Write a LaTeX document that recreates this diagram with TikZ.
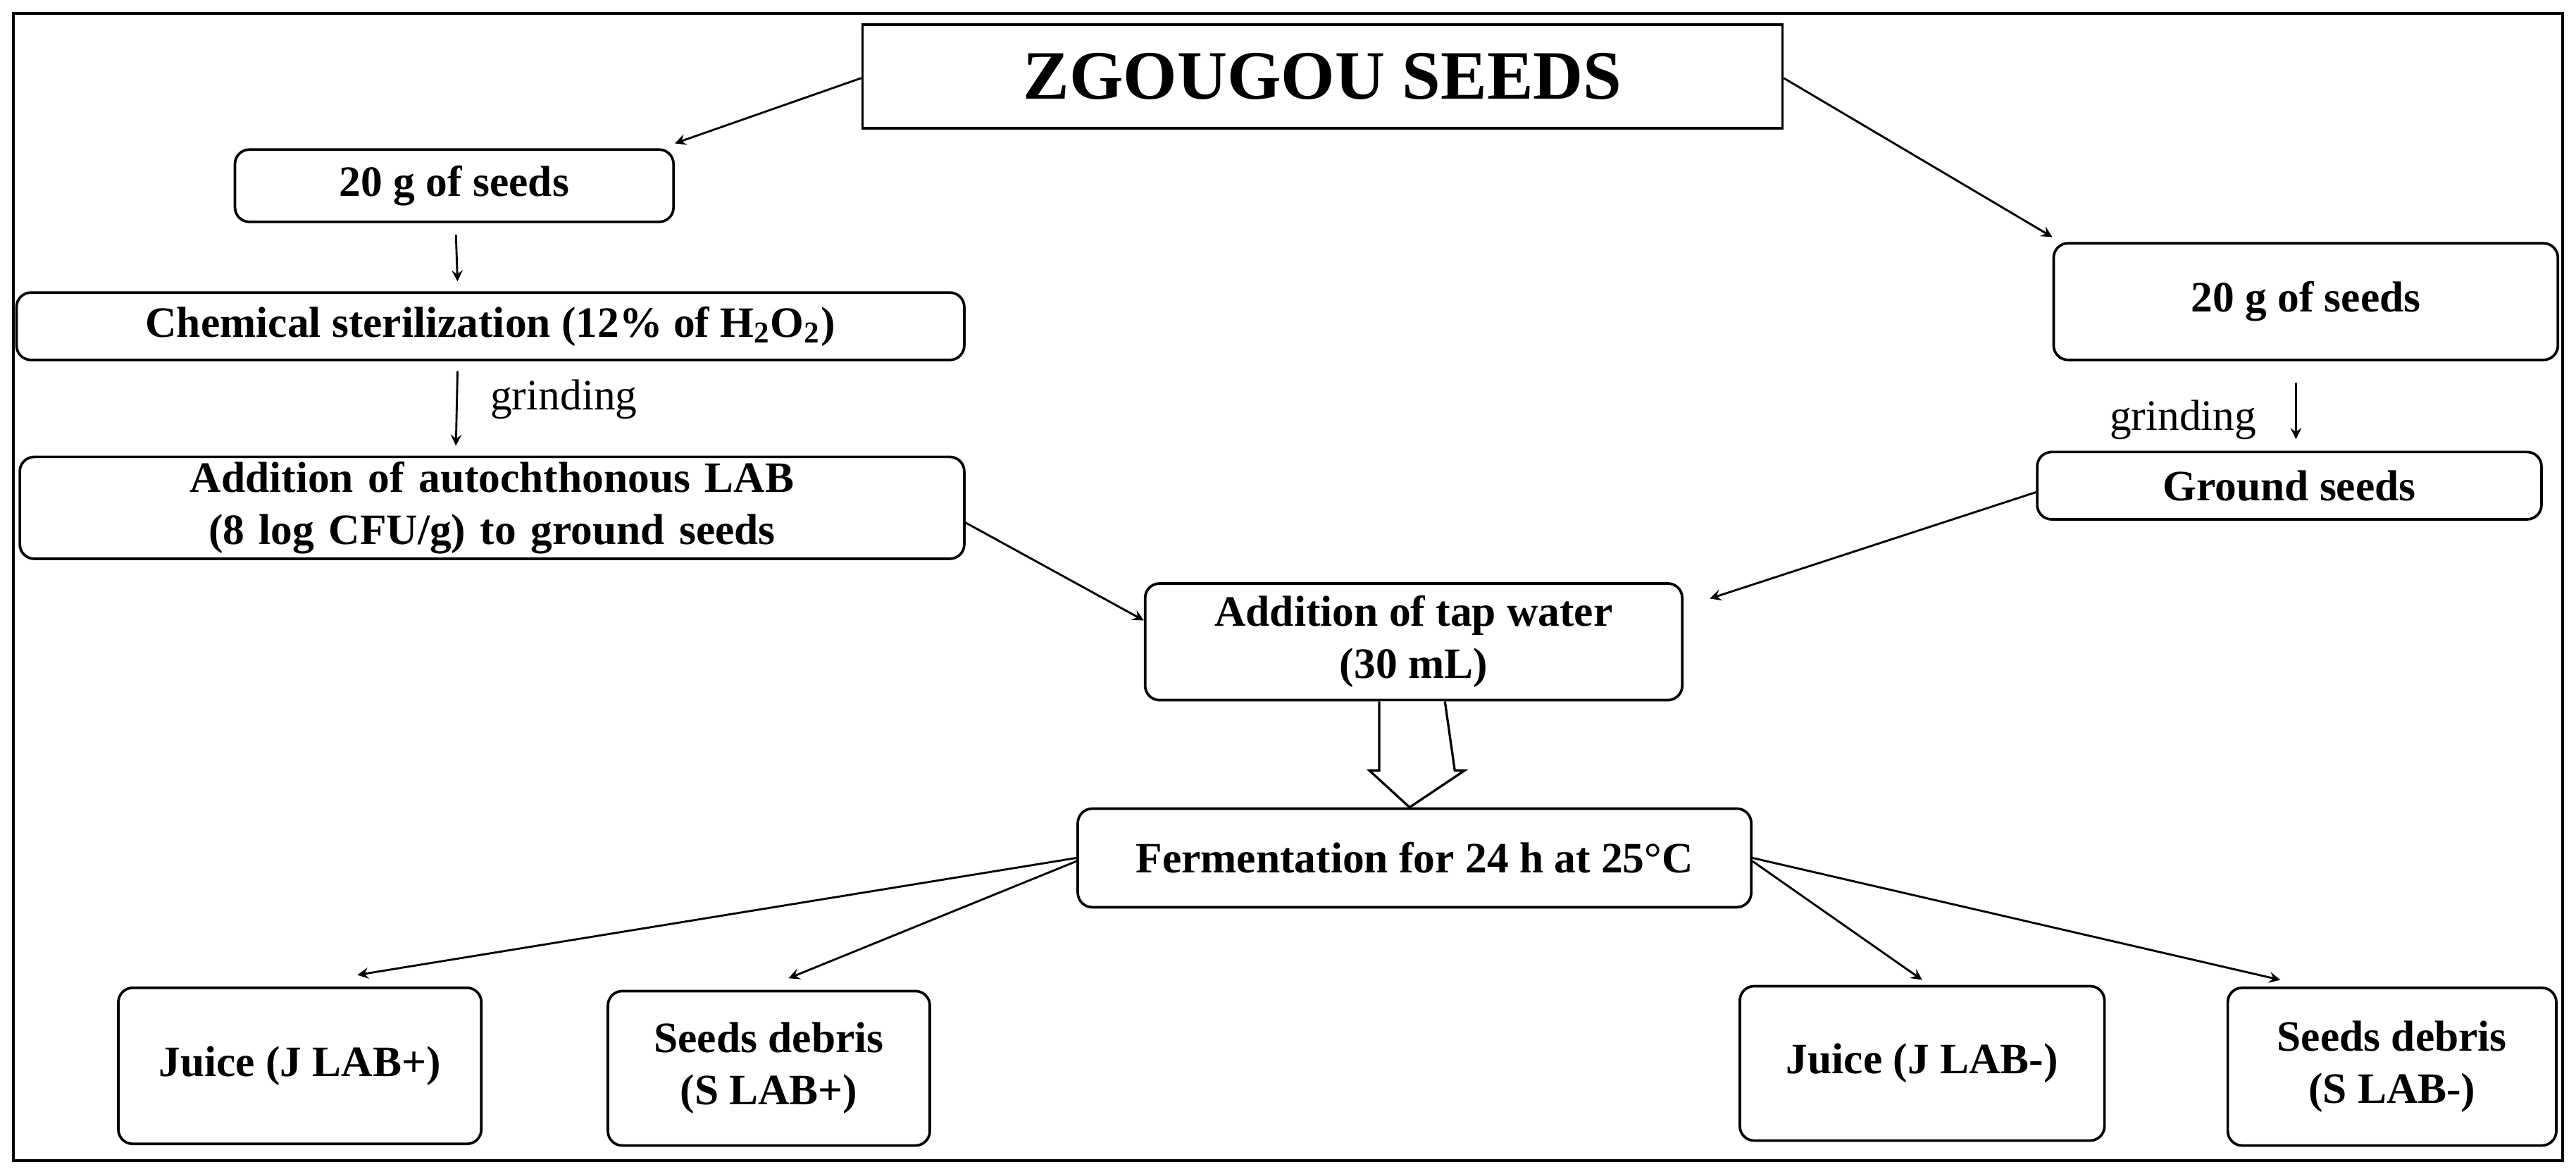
\documentclass[tikz,border=0pt]{standalone}
\usepackage{fontspec}
\setmainfont{Liberation Serif}
\usetikzlibrary{calc}
\begin{document}
\begin{tikzpicture}[x=0.02cm,y=-0.02cm,
 box/.style={draw,rounded corners=5pt,line width=0.9pt,align=center,font=\bfseries\fontsize{15}{18}\selectfont,inner sep=0pt},
 ar/.style={-stealth,line width=0.7pt},
 lab/.style={font=\fontsize{15}{18}\selectfont}]
\useasboundingbox (0,0) rectangle (1568,714);
\draw[line width=1pt] (8,8) rectangle (1560,706);
\node[draw,line width=0.9pt,inner sep=0pt,minimum width=11.2cm,minimum height=1.26cm,font=\bfseries\fontsize{24}{28}\selectfont] (zg) at (805,46.5) {ZGOUGOU SEEDS};
\node[box,minimum width=5.34cm,minimum height=0.88cm] (s1) at (276.5,113) {20 g of seeds};
\node[box,minimum width=11.54cm,minimum height=0.82cm] (ch) at (298.5,198.5) {Chemical sterilization (12\% of H\textsubscript{2}O\textsubscript{2})};
\node[box,minimum width=11.5cm,minimum height=1.24cm,text width=10.4cm] (lab) at (299.5,309) {Addition of autochthonous LAB (8 log CFU/g) to ground seeds};
\node[box,minimum width=6.14cm,minimum height=1.42cm] (s2) at (1403.5,183.5) {20 g of seeds};
\node[box,minimum width=6.14cm,minimum height=0.82cm] (gs) at (1393.5,295.5) {Ground seeds};
\node[box,minimum width=6.54cm,minimum height=1.42cm] (tw) at (860.5,390.5) {Addition of tap water\\(30 mL)};
\node[box,minimum width=8.2cm,minimum height=1.2cm] (fe) at (861,522) {Fermentation for 24 h at 25°C};
\node[box,minimum width=4.42cm,minimum height=1.9cm] (j1) at (182.5,648.5) {Juice (J LAB+)};
\node[box,minimum width=3.92cm,minimum height=1.88cm] (d1) at (468,650) {Seeds debris\\(S LAB+)};
\node[box,minimum width=4.44cm,minimum height=1.88cm] (j2) at (1170,647) {Juice (J LAB-)};
\node[box,minimum width=4cm,minimum height=1.92cm] (d2) at (1456,649) {Seeds debris\\(S LAB-)};
\draw[ar] ($(zg.west)+(0,1)$) -- ($(s1.north east)+(0,-3)$);
\draw[ar] ($(zg.east)+(0,1)$) -- ($(s2.north west)+(0,-3)$);
\draw[ar] ($(s1.south)+(1,7)$) -- ($(ch.north)+(-20,-6)$);
\draw[ar] ($(ch.south)+(-20,6)$) -- ($(lab.north)+(-22,-6)$) node[lab,midway,right=8pt,yshift=3pt] {grinding};
\draw[ar] ($(s2.south)+(-6,13)$) -- ($(gs.north)+(4,-7)$) node[lab,midway,left=10pt,yshift=-3pt] {grinding};
\draw[ar] ($(lab.east)+(0,9)$) -- ($(tw.west)+(0,-13)$);
\draw[ar] ($(gs.west)+(0,4)$) -- ($(tw.north east)+(16,10)$);
\draw[line width=0.8pt,fill=white] ($(tw.south)+(-21,0)$) -- ++(0,42) -- ++(-6,0) -- ($(fe.north)+(-3,0)$) -- ($(tw.south)+(31,42)$) -- ++(-6,0) -- ($(tw.south)+(19,0)$);
\draw[ar] ($(fe.west)+(0,0)$) -- ($(j1.north)+(35,-7)$);
\draw[ar] ($(fe.west)+(0,2)$) -- ($(d1.north)+(12,-7)$);
\draw[ar] ($(fe.east)+(0,2)$) -- ($(j2.north)+(0,-3)$);
\draw[ar] ($(fe.east)+(0,0)$) -- ($(d2.north)+(-68,-4)$);
\end{tikzpicture}
\end{document}
